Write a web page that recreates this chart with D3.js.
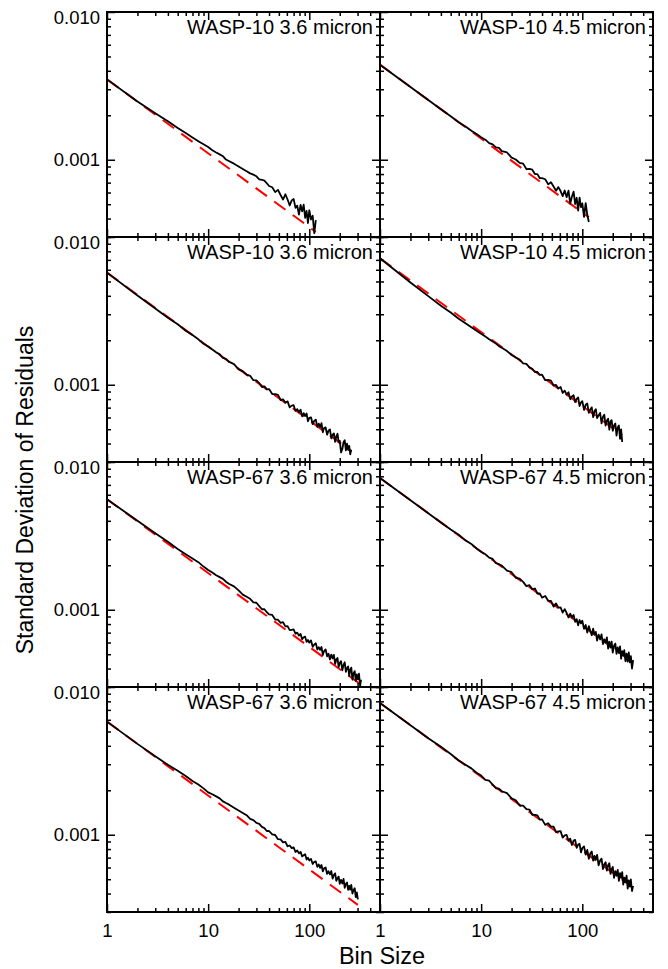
<!DOCTYPE html>
<html><head><meta charset="utf-8">
<script src="https://cdn.jsdelivr.net/npm/d3@7"></script>
<style>body{margin:0;background:#fff}svg{display:block;font-family:"Liberation Sans",Arial,Helvetica,sans-serif}</style>
</head><body><svg id="c" width="668" height="969"></svg>
<script>
// ---- data ----
const panelTitles = ["WASP-10 3.6 micron","WASP-10 4.5 micron","WASP-10 3.6 micron","WASP-10 4.5 micron",
  "WASP-67 3.6 micron","WASP-67 4.5 micron","WASP-67 3.6 micron","WASP-67 4.5 micron"];
const binSizes = [1,2,3,4,5,6,7,8,9,10,11,12,13,14,15,16,18,20,22,24,26,28,30,32,34,36,38,40,
  43,46,49,52,55,58,61,64,67,70,73,76,79,82,85,88,91,94,97,100,104,108,112,116,120,124,128,132,136,140,
  145,150,155,160,165,170,175,180,185,190,195,200,206,212,218,224,230,236,242,248,254,260,
  267,274,281,288,295,302,310,318,325];
// standard deviation of residuals, in ppm (1e-6), one value per bin size
const w10_36_a = [3500,2475,2061,1820,1643,1515,1416,1336,1272,1218,1161,1121,1088,1057,1003,980,
  941,900,865,835,809,793,773,737,732,723,693,664,
  651,604,625,577,538,584,538,490,531,543,472,489,426,494,448,496,404,451,373,455,
  394,418,318,390];
const w10_45_a = [4400,3111,2540,2200,1968,1796,1680,1572,1496,1419,1367,1295,1269,1211,1204,1144,
  1120,1033,1004,952,941,865,867,856,800,799,750,752,
  738,681,704,659,617,653,614,567,619,558,618,505,564,608,501,553,452,554,478,506,
  410,508,424,379];
const w10_36_b = [5740,4018,3281,2841,2567,2320,2170,2030,1894,1815,1731,1657,1608,1519,1497,1435,
  1380,1270,1236,1172,1149,1074,1069,1025,964,976,931,935,
  866,863,853,788,797,754,772,703,722,727,665,684,652,678,611,643,614,639,566,597,
  602,541,569,581,519,546,517,549,477,509,
  514,459,489,499,434,458,469,411,447,466,407,418,
  348,366,408,421,359,400,362,386,338,363];
const w10_45_b = [7180,4925,3980,3428,3083,2799,2605,2450,2321,2213,2122,2032,1962,1900,1826,1777,
  1692,1589,1531,1480,1394,1384,1311,1282,1219,1221,1165,1169,
  1073,1079,1067,986,997,943,965,880,912,858,890,799,832,849,763,803,820,718,758,775,
  676,732,746,646,681,703,603,663,683,595,
  620,645,548,608,626,529,570,589,496,563,576,488,
  530,547,452,514,530,430,499,410];
const w67_36_a = [5600,4000,3298,2884,2579,2377,2223,2099,1960,1860,1789,1714,1662,1617,1547,1498,
  1439,1352,1266,1223,1186,1121,1115,1059,1008,1008,962,929,
  922,858,856,816,823,772,774,728,732,736,688,700,668,686,632,651,657,606,625,599,
  620,561,582,593,537,558,535,560,494,525,
  539,484,504,461,497,469,495,430,461,471,409,436,
  449,389,424,441,380,402,414,356,393,406,
  336,372,384,330,365,338,
  369,305,336];
const w67_45_a = [7800,5515,4504,3900,3488,3216,2948,2786,2600,2466,2376,2252,2207,2064,2034,1989,
  1838,1796,1646,1624,1545,1445,1467,1379,1392,1287,1290,1208,
  1238,1150,1147,1050,1104,1034,1038,956,1010,951,886,940,887,921,829,864,784,852,808,842,
  742,788,700,775,719,672,744,679,709,619,
  679,630,682,586,631,598,649,546,607,555,608,512,
  570,590,502,557,509,564,466,525,489,532,
  448,504,446,514,440,485,
  399,456];
const w67_36_b = [5830,4122,3400,2973,2711,2499,2314,2185,2060,1936,1881,1818,1763,1683,1640,1604,
  1525,1460,1405,1357,1280,1256,1203,1186,1130,1108,1060,1060,
  1005,996,933,930,888,895,836,846,812,822,764,783,748,766,714,727,739,679,699,670,
  686,634,656,660,606,629,597,624,565,592,
  600,543,566,539,568,505,534,548,488,508,521,466,
  495,468,502,437,465,475,424,451,425,458,
  400,422,435,378,407,365];
const w67_45_b = [7800,5515,4504,3939,3523,3184,2977,2813,2626,2515,2352,2320,2186,2064,2054,1970,
  1912,1761,1713,1576,1576,1489,1481,1365,1365,1352,1265,1270,
  1166,1196,1136,1136,1040,1055,1058,956,991,997,913,940,852,913,922,814,858,868,760,811,
  834,735,789,688,748,770,668,720,676,731,
  621,668,689,586,631,652,572,622,642,543,586,606,
  510,568,528,578,488,549,511,559,460,513,
  477,528,432,491,445,498,
  416,451];
const panelSeries = [w10_36_a, w10_45_a, w10_36_b, w10_45_b, w67_36_a, w67_45_a, w67_36_b, w67_45_b];
// expected white-noise (1/sqrt(N)) reference line endpoints, ppm
const redStartPpm = [3500,4400,5740,7180,5600,7800,5830,7800];
const redEndBin   = [116,116,260,248,325,318,302,318];
const redEndPpm   = [325,408,356,456,311,438,335,438];
// axes
const xMajorTicks = [1,10,100];
const xMinorTicks = [2,3,4,5,6,7,8,9,20,30,40,50,60,70,80,90,200,300,400];
const yMajorTicks = [0.001,0.01];
const yMinorTicks = [0.0003,0.0004,0.0005,0.0006,0.0007,0.0008,0.0009,0.002,0.003,0.004,0.005,0.006,0.007,0.008,0.009];
const xDomain = [1,500], yDomain = [0.0003,0.01];

// ---- drawing ----
const svg = d3.select("#c");
const W = 273, H = 225;
const colX = [107,380], rowY = [12,237,462,687];
const x = d3.scaleLog().domain(xDomain).range([0,W]);
const y = d3.scaleLog().domain(yDomain).range([H,0]);
const MAJ = 8, MIN = 4;
const tickFont = 18.5;

function styleAxis(g){
  g.select(".domain").remove();
  g.selectAll(".tick line").attr("stroke","#000").attr("stroke-width",1.5);
  g.selectAll(".tick text").attr("font-size",tickFont).attr("fill","#000").attr("font-family",null);
}

const line = d3.line().x(d=>x(d[0])).y(d=>y(d[1]));

panelSeries.forEach((vals,i)=>{
  const col = i%2, row = Math.floor(i/2);
  const g = svg.append("g").attr("transform",`translate(${colX[col]},${rowY[row]})`);

  // red dashed reference
  const red = [[1, redStartPpm[i]*1e-6],[redEndBin[i], redEndPpm[i]*1e-6]];
  g.append("path").datum(red).attr("d",line).attr("fill","none")
    .attr("stroke","#f00").attr("stroke-width",2).attr("stroke-dasharray","14,9");

  // black measured curve
  const pts = vals.map((v,k)=>[binSizes[k], v*1e-6]);
  g.append("path").datum(pts).attr("d",line).attr("fill","none")
    .attr("stroke","#000").attr("stroke-width",1.8).attr("stroke-linejoin","round");

  // axes: bottom
  g.append("g").attr("transform",`translate(0,${H})`)
    .call(d3.axisBottom(x).tickValues(xMajorTicks).tickSize(-MAJ).tickPadding(12)
      .tickFormat(row===3 ? d3.format("d") : ""))
    .call(styleAxis);
  g.append("g").attr("transform",`translate(0,${H})`)
    .call(d3.axisBottom(x).tickValues(xMinorTicks).tickSize(-MIN).tickFormat(""))
    .call(styleAxis);
  // top
  g.append("g").call(d3.axisTop(x).tickValues(xMajorTicks).tickSize(-MAJ).tickFormat("")).call(styleAxis);
  g.append("g").call(d3.axisTop(x).tickValues(xMinorTicks).tickSize(-MIN).tickFormat("")).call(styleAxis);
  // left
  const la = g.append("g")
    .call(d3.axisLeft(y).tickValues(yMajorTicks).tickSize(-MAJ).tickPadding(7)
      .tickFormat(col===0 ? d3.format(".3f") : ""))
    .call(styleAxis);
  la.selectAll(".tick text").filter(d=>d===0.01).attr("dy","0.62em");
  g.append("g").call(d3.axisLeft(y).tickValues(yMinorTicks).tickSize(-MIN).tickFormat("")).call(styleAxis);
  // right
  g.append("g").attr("transform",`translate(${W},0)`)
    .call(d3.axisRight(y).tickValues(yMajorTicks).tickSize(-MAJ).tickFormat("")).call(styleAxis);
  g.append("g").attr("transform",`translate(${W},0)`)
    .call(d3.axisRight(y).tickValues(yMinorTicks).tickSize(-MIN).tickFormat("")).call(styleAxis);

  // frame
  g.append("rect").attr("width",W).attr("height",H).attr("fill","none")
    .attr("stroke","#000").attr("stroke-width",2);

  // title
  g.append("text").attr("x",W-7).attr("y",21.5).attr("text-anchor","end")
    .attr("font-size",20).attr("fill","#000").text(panelTitles[i]);
});

svg.append("text").attr("x",382).attr("y",964).attr("text-anchor","middle")
  .attr("font-size",23.5).attr("fill","#000").text("Bin Size");
svg.append("text").attr("transform","translate(33,490) rotate(-90)").attr("text-anchor","middle")
  .attr("font-size",23).attr("fill","#000").text("Standard Deviation of Residuals");
</script></body></html>
